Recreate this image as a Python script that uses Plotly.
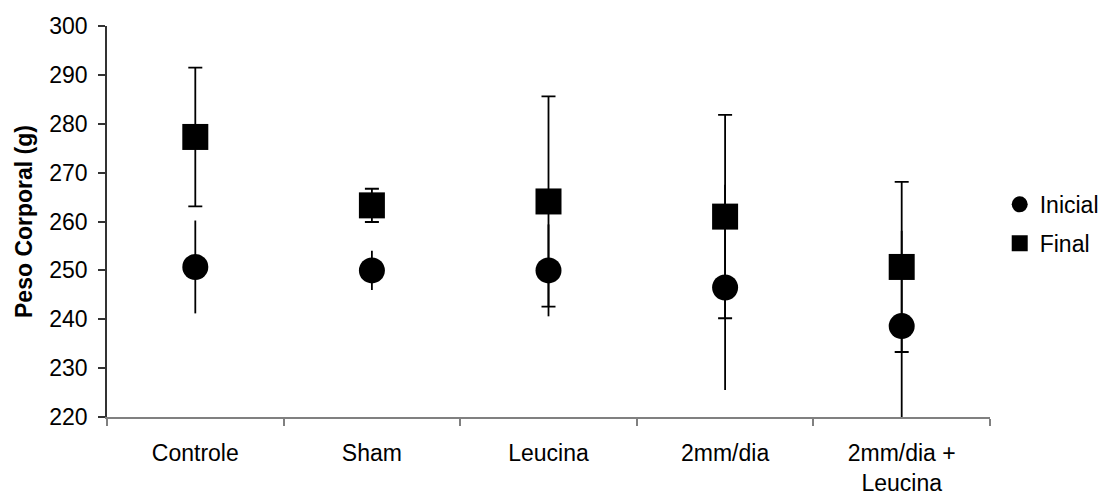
import plotly.graph_objects as go

# Body weight (g) per group, at the start and at the end of the protocol
grupos = ["Controle", "Sham", "Leucina", "2mm/dia", "2mm/dia +<br>Leucina"]

peso_inicial = [250.7, 250.0, 250.0, 246.5, 238.6]
erro_inicial = [9.5, 4.0, 9.4, 21.0, 19.5]

peso_final = [277.3, 263.3, 264.1, 261.0, 250.7]
erro_final = [14.2, 3.4, 21.5, 20.8, 17.4]

y_ticks = [220, 230, 240, 250, 260, 270, 280, 290, 300]

FONT = "Liberation Sans, Arial, sans-serif"

fig = go.Figure()

fig.add_trace(go.Scatter(
    x=grupos, y=peso_inicial, name="Inicial", mode="markers",
    marker=dict(symbol="circle", size=26, color="black"),
    error_y=dict(type="data", array=erro_inicial, visible=True,
                 color="black", thickness=1.8, width=0),
    legendgroup="a",
))

fig.add_trace(go.Scatter(
    x=grupos, y=peso_final, name="Final", mode="markers",
    marker=dict(symbol="square", size=26, color="black"),
    error_y=dict(type="data", array=erro_final, visible=True,
                 color="black", thickness=1.8, width=7),
    legendgroup="b",
))

fig.update_layout(
    width=1104, height=496,
    margin=dict(l=107, r=114, t=26, b=79, autoexpand=False),
    plot_bgcolor="white", paper_bgcolor="white",
    font=dict(family=FONT, size=23, color="black"),
    showlegend=True,
    legend=dict(x=1.011, y=0.494, xanchor="left", yanchor="middle",
                font=dict(size=23), tracegroupgap=6,
                itemwidth=30, bgcolor="rgba(0,0,0,0)"),
    xaxis=dict(
        type="category", range=[-0.5, 4.5], tickson="boundaries",
        showline=True, linecolor="#808080", linewidth=1.5,
        ticks="outside", ticklen=7, tickcolor="#808080", tickwidth=1.5,
        showgrid=False, zeroline=False, automargin=False,
        tickfont=dict(size=23), ticklabelstandoff=15,
    ),
    yaxis=dict(
        range=[220, 300], tickvals=y_ticks,
        showline=True, linecolor="#333333", linewidth=1.5,
        ticks="outside", ticklen=7, tickcolor="#333333", tickwidth=1.5,
        showgrid=False, zeroline=False, automargin=False,
        tickfont=dict(size=23), ticklabelstandoff=6,
        title=dict(text="<b>Peso Corporal (g)</b>", font=dict(size=23),
                   standoff=10),
    ),
)

fig.write_html("out.html")
